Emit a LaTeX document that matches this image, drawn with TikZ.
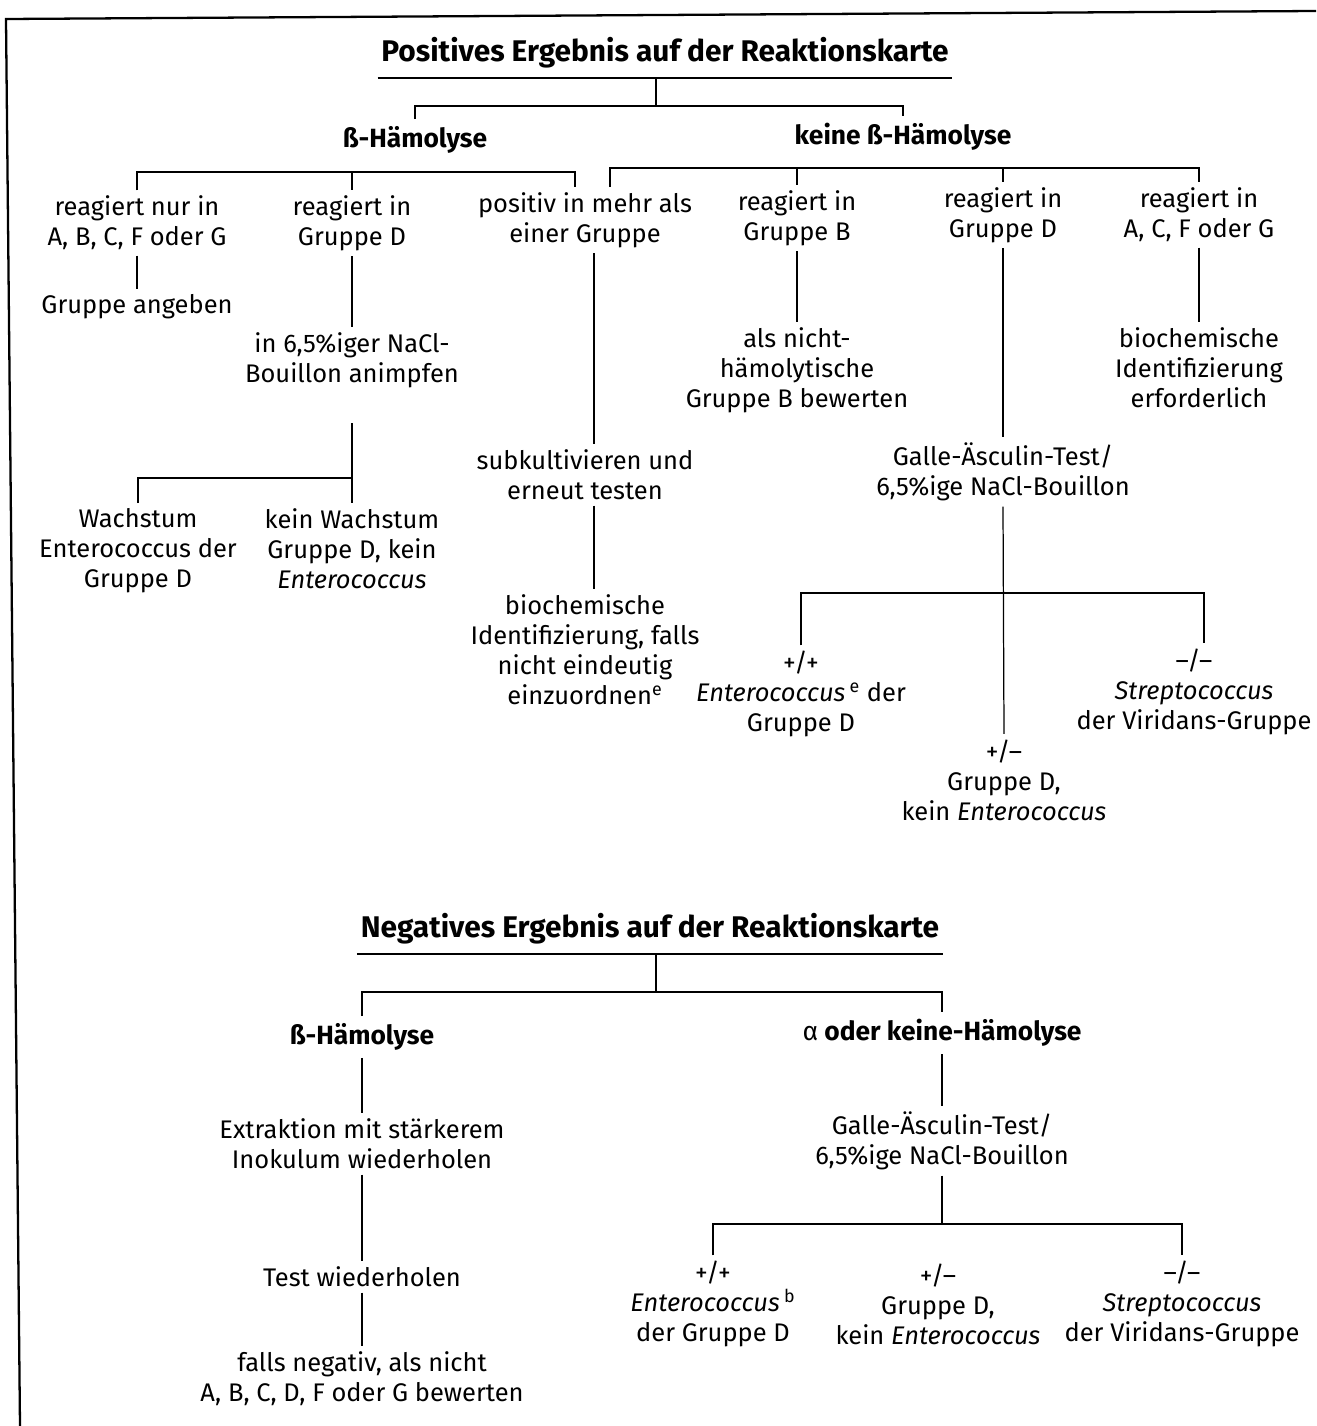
\documentclass[tikz,border=0pt]{standalone}
\usepackage{fontspec}
\setmainfont{Fira Sans}
\usetikzlibrary{positioning,calc}

\begin{document}
\begin{tikzpicture}[
    x=0.02cm, y=-0.02cm,
    txt/.style={align=center, inner xsep=2pt, inner ysep=3pt, font=\fontsize{14.5}{17.07}\selectfont},
    head/.style={align=center, inner xsep=2pt, inner ysep=4pt, font=\fontsize{15}{17.07}\selectfont\bfseries},
    title/.style={inner xsep=2pt, inner ysep=0pt, font=\fontsize{17}{20}\selectfont\bfseries},
    link/.style={draw=black, line width=0.7pt},
    frame/.style={draw=black, line width=1.3pt}
]
\useasboundingbox (0,0) rectangle (1316,1426);

% === Frame ===
\draw[frame] (1316,11) -- (6,19) -- (20,1426);

% === POSITIVE RESULT ===
\node[title] (posT) at (665,53) {Positives Ergebnis auf der Reaktionskarte};
\coordinate (u1) at (656,78);
\coordinate (b1) at (656,106);
\draw[link] (posT.west |- u1) -- (posT.east |- u1);
\draw[link] (u1) -- (b1);

\node[head] (haemA) at (415,140) {ß-Hämolyse};
\node[head] (haemB) at (903,137) {keine ß-Hämolyse};
\draw[link] (haemA.north) |- (b1) -| (haemB.north);

% second level
\node[txt] (rA) at (137,223) {reagiert nur in\\A, B, C, F oder G};
\node[txt] (rD) at (352,223) {reagiert in\\Gruppe D};
\node[txt] (rM) at (585,220) {positiv in mehr als\\einer Gruppe};
\node[txt] (rB) at (797,218) {reagiert in\\Gruppe B};
\node[txt] (rD2) at (1003,215) {reagiert in\\Gruppe D};
\node[txt] (rACFG) at (1199,215) {reagiert in\\A, C, F oder G};

\coordinate (bA) at (575,172);
\coordinate (bB) at (610,168);
\coordinate (cM) at (594,0);
\coordinate (cR) at (1204,0);
\draw[link] (rA.north) |- (bA) -- (bA |- rM.north);
\draw[link] (rD.north) -- (rD.north |- bA);
\draw[link] (bB |- rM.north) -- (bB) -| (rACFG.north);
\draw[link] (rB.north) -- (rB.north |- bB);
\draw[link] (rD2.north) -- (rD2.north |- bB);

% left column
\node[txt] (gA) at (137,307) {Gruppe angeben};
\draw[link] (rA.south) -- (gA.north);

\node[txt] (nacl) at (352,360) {in 6,5\%iger NaCl-\\Bouillon animpfen};
\draw[link] (rD.south) -- (nacl.north);

\node[txt] (wA) at (138,551) {Wachstum\\Enterococcus der\\Gruppe D};
\node[txt] (kW) at (352,549) {kein Wachstum\\Gruppe D, kein\\\textit{Enterococcus}};
\coordinate (bW) at (352,478);
\draw[link, shorten <=0.6cm] (nacl.south) -- (kW.north);
\draw[link] (wA.north) |- (bW);

% middle column
\node[txt] (sub) at (585,475) {subkultivieren und\\erneut testen};
\node[txt] (bio1) at (585,650) {biochemische\\Identifizierung, falls\\nicht eindeutig\\einzuordnen\textsuperscript{e}};
\draw[link] (rM.south -| cM) -- (sub.north -| cM);
\draw[link] (sub.south -| cM) -- (bio1.north -| cM);

\node[txt] (nhB) at (797,370) {als nicht-\\hämolytische\\Gruppe B bewerten};
\draw[link] (rB.south) -- (nhB.north);

\node[txt] (bioR) at (1199,368) {biochemische\\Identifizierung\\erforderlich};
\draw[link] (rACFG.south) -- (bioR.north);

% bile esculin branch
\node[txt] (gal1) at (1003,472) {Galle-Äsculin-Test/\\6,5\%ige NaCl-Bouillon};
\draw[link] (rD2.south) -- (gal1.north);

\node[txt] (ppA) at (801,694) {+/+\\\textit{Enterococcus}\,\textsuperscript{e} der\\Gruppe D};
\node[txt] (pmA) at (1004,780) {+/–\\Gruppe D,\\kein \textit{Enterococcus}};
\node[txt] (mmA) at (1194,692) {–/–\\\textit{Streptococcus}\\der Viridans-Gruppe};
\coordinate (bG) at (1004,593);
\draw[link] (gal1.south) -- (pmA.north);
\draw[link] (ppA.north) |- (bG) -| (cR |- mmA.north);

% === NEGATIVE RESULT ===
\node[title] (negT) at (650,929) {Negatives Ergebnis auf der Reaktionskarte};
\coordinate (u2) at (656,954);
\coordinate (b2) at (656,992);
\draw[link] (negT.west |- u2) -- (negT.east |- u2);
\draw[link] (u2) -- (b2);

\node[head] (haemC) at (362,1037) {ß-Hämolyse};
\node[head] (alpha) at (942,1033) {{\mdseries α} oder keine-Hämolyse};
\draw[link] (haemC.north) |- (b2) -| (alpha.north);

% left column
\node[txt] (ext) at (362,1144) {Extraktion mit stärkerem\\Inokulum wiederholen};
\node[txt] (tw) at (362,1277) {Test wiederholen};
\node[txt] (fn) at (362,1379) {falls negativ, als nicht\\A, B, C, D, F oder G bewerten};
\draw[link] (haemC.south) -- (ext.north);
\draw[link] (ext.south) -- (tw.north);
\draw[link] (tw.south) -- (fn.north);

% right column
\node[txt] (gal2) at (942,1141) {Galle-Äsculin-Test/\\6,5\%ige NaCl-Bouillon};
\draw[link] (alpha.south) -- (gal2.north);

\node[txt] (ppB) at (713,1304) {+/+\\\textit{Enterococcus}\,\textsuperscript{b}\\der Gruppe D};
\node[txt] (pmB) at (938,1304) {+/–\\Gruppe D,\\kein \textit{Enterococcus}};
\node[txt] (mmB) at (1182,1304) {–/–\\\textit{Streptococcus}\\der Viridans-Gruppe};
\coordinate (b3) at (942,1224);
\draw[link] (gal2.south) -- (b3);
\draw[link] (ppB.north) |- (b3) -| (mmB.north);

\end{tikzpicture}
\end{document}
